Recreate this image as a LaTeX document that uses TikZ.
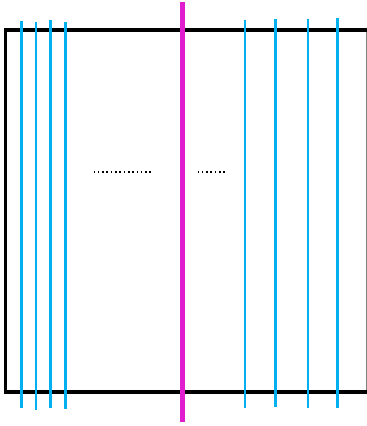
\documentclass[tikz,border=0pt]{standalone}
\definecolor{slitblue}{HTML}{00B0F0}
\definecolor{cutmagenta}{HTML}{E01ED0}
\begin{document}
\begin{tikzpicture}[
    x=1pt, y=-1pt,
    frame/.style={line width=3.4pt, black},
    slit/.style={line width=2.9pt, slitblue},
    cut/.style={line width=5.4pt, cutmagenta},
    gap/.style={line width=1.7pt, dash pattern=on 1.6pt off 2.7pt},
]
\useasboundingbox (0,0) rectangle (367,426);
% frame, open to the right
\draw[gray, line width=1pt] (366,30) -- (366,392);
\draw[frame] (367,30) -- (5.5,30) -- (5.5,392) -- (367,392);
% vertical lines
\foreach \xx/\ya/\yb in {21.7/20.5/408.3, 36/21.7/409.7, 50.3/20.3/408.3, 65.7/21.7/409,
                         245/19.5/407.7, 275.5/18.5/407, 308/19.3/408, 337.5/18.3/407.7}
    \draw[slit] (\xx,\ya) -- (\xx,\yb);
\draw[cut] (182.5,2) -- (182.5,421.5);
% omitted lines
\draw[gap] (93.5,172) -- (153,172);
\draw[gap] (197.5,172) -- (226,172);
\end{tikzpicture}
\end{document}
